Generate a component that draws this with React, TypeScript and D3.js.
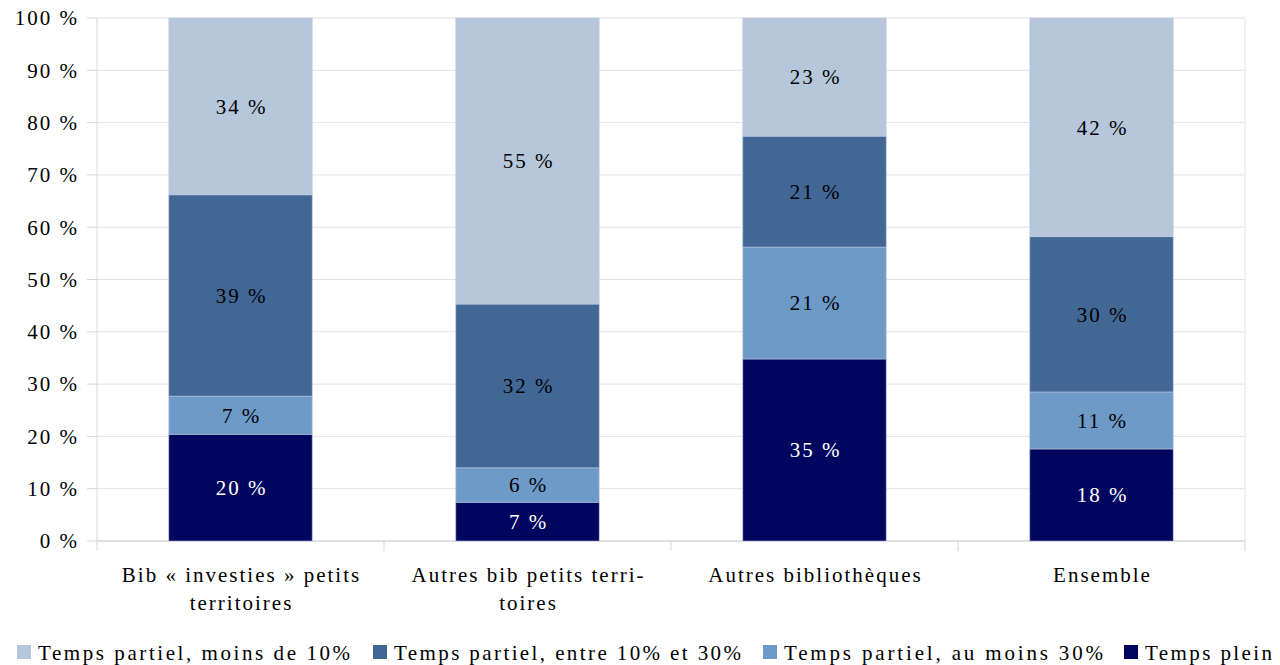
import React from "react";
import * as d3 from "d3";

const categories = ["Bib « investies » petits territoires", "Autres bib petits territoires", "Autres bibliothèques", "Ensemble"];
const categoryLines = [["Bib « investies » petits", "territoires"], ["Autres bib petits terri-", "toires"], ["Autres bibliothèques"], ["Ensemble"]];

const seriesNames = ["Temps plein", "Temps partiel, au moins 30%", "Temps partiel, entre 10% et 30%", "Temps partiel, moins de 10%"];
const seriesColors = ["#00065e", "#6e9ac8", "#426794", "#b6c7db"];
const seriesTextColors = ["#ffffff", "#000000", "#000000", "#000000"];

const tempsPlein = [20.4, 7.4, 34.8, 17.6];
const auMoins30 = [7.3, 6.6, 21.4, 10.9];
const entre10et30 = [38.5, 31.3, 21.2, 29.7];
const moins10 = [33.8, 54.7, 22.6, 41.8];

const tempsPleinLabels = ["20 %", "7 %", "35 %", "18 %"];
const auMoins30Labels = ["7 %", "6 %", "21 %", "11 %"];
const entre10et30Labels = ["39 %", "32 %", "21 %", "30 %"];
const moins10Labels = ["34 %", "55 %", "23 %", "42 %"];

const yTicks = [0, 10, 20, 30, 40, 50, 60, 70, 80, 90, 100];

const legendOrder = [3, 2, 1, 0];
const legendLabels = ["Temps partiel, moins de 10%", "Temps partiel, entre 10% et 30%", "Temps partiel, au moins 30%", "Temps plein"];

const FONT = '"Liberation Serif", "Times New Roman", Times, serif';

export default function App() {
  const W = 1280, H = 665;
  const left = 97, right = 1245, top = 18, bottom = 541;
  const ts = { fontFamily: FONT };

  const x = d3.scaleBand<string>().domain(categories).range([left, right]).paddingInner(0.5).paddingOuter(0.25);
  const y = d3.scaleLinear().domain([0, 100]).range([bottom, top]);

  const values = [tempsPlein, auMoins30, entre10et30, moins10];
  const labels = [tempsPleinLabels, auMoins30Labels, entre10et30Labels, moins10Labels];
  const table = categories.map((c, i) => {
    const row: any = { cat: c };
    seriesNames.forEach((s, k) => (row[s] = values[k][i]));
    return row;
  });
  const stack = d3.stack<any>().keys(seriesNames)(table);

  const step = x.step();
  const boundaries = d3.range(categories.length + 1).map((i) => left + i * step);

  const legendX = [17, 373, 763, 1124];
  const legendW = [312, 347, 319, 127];

  return (
    <svg width={W} height={H} style={{ position: "absolute", left: 0, top: 0, background: "#fff", fontFamily: FONT }}>
      {yTicks.map((t) => (
        <g key={t}>
          <line x1={left} x2={right} y1={y(t)} y2={y(t)} stroke="#e3e3e3" strokeWidth={1} />
          <line x1={87} x2={left} y1={y(t)} y2={y(t)} stroke="#d6d6d6" strokeWidth={1} />
          <text x={79} y={y(t)} dy="0.35em" textAnchor="end" fontSize={21} letterSpacing={2} fill="#000" style={ts}>
            {t} %
          </text>
        </g>
      ))}
      <line x1={left} x2={left} y1={top} y2={bottom} stroke="#d6d6d6" />
      <line x1={right} x2={right} y1={top} y2={bottom} stroke="#e6e6e6" />
      <line x1={left} x2={right} y1={bottom} y2={bottom} stroke="#cfcfcf" />
      {boundaries.map((b, i) => (
        <line key={i} x1={b} x2={b} y1={bottom} y2={551} stroke="#d6d6d6" />
      ))}
      {stack.map((layer, k) => (
        <g key={k}>
          {layer.map((d, i) => {
            const x0 = x(categories[i])!;
            const y0 = y(d[1]);
            const h = y(d[0]) - y(d[1]);
            return (
              <g key={i}>
                <rect x={x0} y={y0} width={x.bandwidth()} height={h} fill={seriesColors[k]} stroke="rgba(190,200,225,0.55)" strokeWidth={1} />
                <text x={x0 + x.bandwidth() / 2 + 1} y={y0 + h / 2} dy="0.35em" textAnchor="middle" fontSize={21} letterSpacing={2} fill={seriesTextColors[k]} style={ts}>
                  {labels[k][i]}
                </text>
              </g>
            );
          })}
        </g>
      ))}
      {categories.map((c, i) => (
        <text key={c} textAnchor="middle" fontSize={21} letterSpacing={2} fill="#000" style={ts}>
          {categoryLines[i].map((ln, j) => (
            <tspan key={j} x={x(c)! + x.bandwidth() / 2 + 1} y={582 + j * 28}>
              {ln}
            </tspan>
          ))}
        </text>
      ))}
      {legendOrder.map((k, i) => (
        <g key={k}>
          <rect x={legendX[i]} y={645} width={14} height={14} fill={seriesColors[k]} />
          <text x={legendX[i] + 21} y={660} fontSize={21} fill="#000" textLength={legendW[i]} lengthAdjust="spacing" style={ts}>
            {legendLabels[i]}
          </text>
        </g>
      ))}
    </svg>
  );
}
